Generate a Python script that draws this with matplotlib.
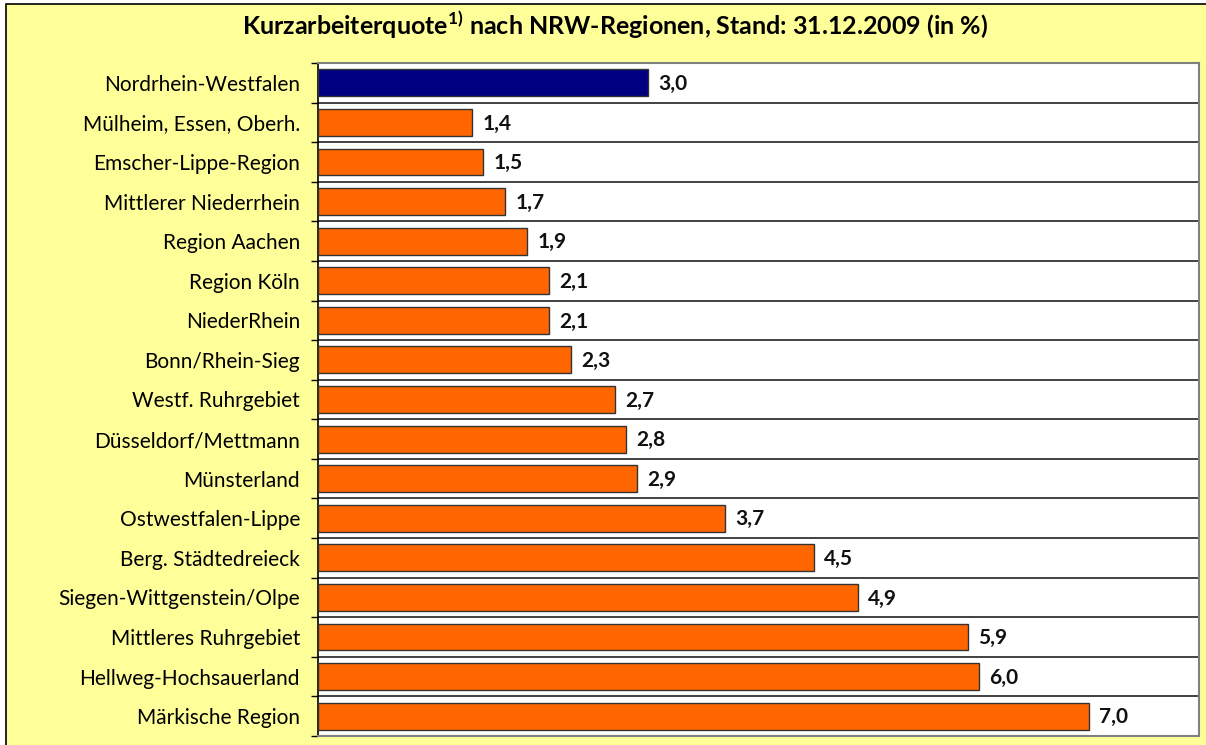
import matplotlib.pyplot as plt
import matplotlib.patches as mpatches
import numpy as np

plt.rcParams['font.family'] = ['Lato', 'DejaVu Sans']
plt.rcParams['mathtext.fontset'] = 'custom'
plt.rcParams['mathtext.rm'] = 'Lato'
plt.rcParams['mathtext.bf'] = 'Lato:bold'

regions = ['Nordrhein-Westfalen', 'Mülheim, Essen, Oberh.', 'Emscher-Lippe-Region',
           'Mittlerer Niederrhein', 'Region Aachen', 'Region Köln', 'NiederRhein',
           'Bonn/Rhein-Sieg', 'Westf. Ruhrgebiet', 'Düsseldorf/Mettmann', 'Münsterland',
           'Ostwestfalen-Lippe', 'Berg. Städtedreieck', 'Siegen-Wittgenstein/Olpe',
           'Mittleres Ruhrgebiet', 'Hellweg-Hochsauerland', 'Märkische Region']
quote = [3.0, 1.4, 1.5, 1.7, 1.9, 2.1, 2.1, 2.3, 2.7, 2.8, 2.9, 3.7, 4.5, 4.9, 5.9, 6.0, 7.0]

W, H = 1206, 745
fig = plt.figure(figsize=(W / 100, H / 100), dpi=100)
fig.patch.set_facecolor('white')

# yellow panel with black frame (top and left edges visible)
fig.patches.append(mpatches.Rectangle((6 / W, -0.05), 1.1, 1 - 4 / H + 0.05,
                                      transform=fig.transFigure, facecolor='#FFFF99',
                                      edgecolor='black', linewidth=1.2, zorder=-10))

ax = fig.add_axes([318 / W, 1 - 736 / H, 881 / W, 673 / H])
ax.set_facecolor('white')

y = np.arange(len(regions))
colors = ['#000080'] + ['#FF6600'] * (len(regions) - 1)
ax.barh(y, quote, height=0.68, color=colors, edgecolor='#333333', linewidth=1.0, zorder=3)

for yi, v in zip(y, quote):
    ax.text(v + 0.09, yi + 0.03, f'{v:.1f}'.replace('.', ','), va='center', ha='left',
            fontsize=15, fontweight='bold', color='#111111', zorder=4)

ax.set_xlim(0, 8)
ax.set_ylim(len(regions) - 0.5, -0.5)
ax.set_xticks([])
ax.set_yticks(y)
ax.set_yticklabels(regions, fontsize=15)
ax.tick_params(axis='y', which='major', length=0, pad=13)
ax.set_yticks(np.arange(len(regions) + 1) - 0.5, minor=True)
ax.tick_params(axis='y', which='minor', length=5, width=1, color='black', direction='out')
ax.grid(axis='y', which='minor', color='#333333', linewidth=1.3, zorder=1)

for side in ['top', 'right', 'bottom']:
    ax.spines[side].set_color('#808080')
    ax.spines[side].set_linewidth(1.5)
ax.spines['left'].set_color('black')
ax.spines['left'].set_linewidth(1.2)

fig.text(615 / W, 1 - 25 / H,
         r'Kurzarbeiterquote$^{\mathbf{1)}}$ nach NRW-Regionen, Stand: 31.12.2009 (in %)',
         ha='center', va='center', fontsize=18, fontweight='bold')

fig.savefig('out.png', dpi=100, facecolor=fig.get_facecolor())
